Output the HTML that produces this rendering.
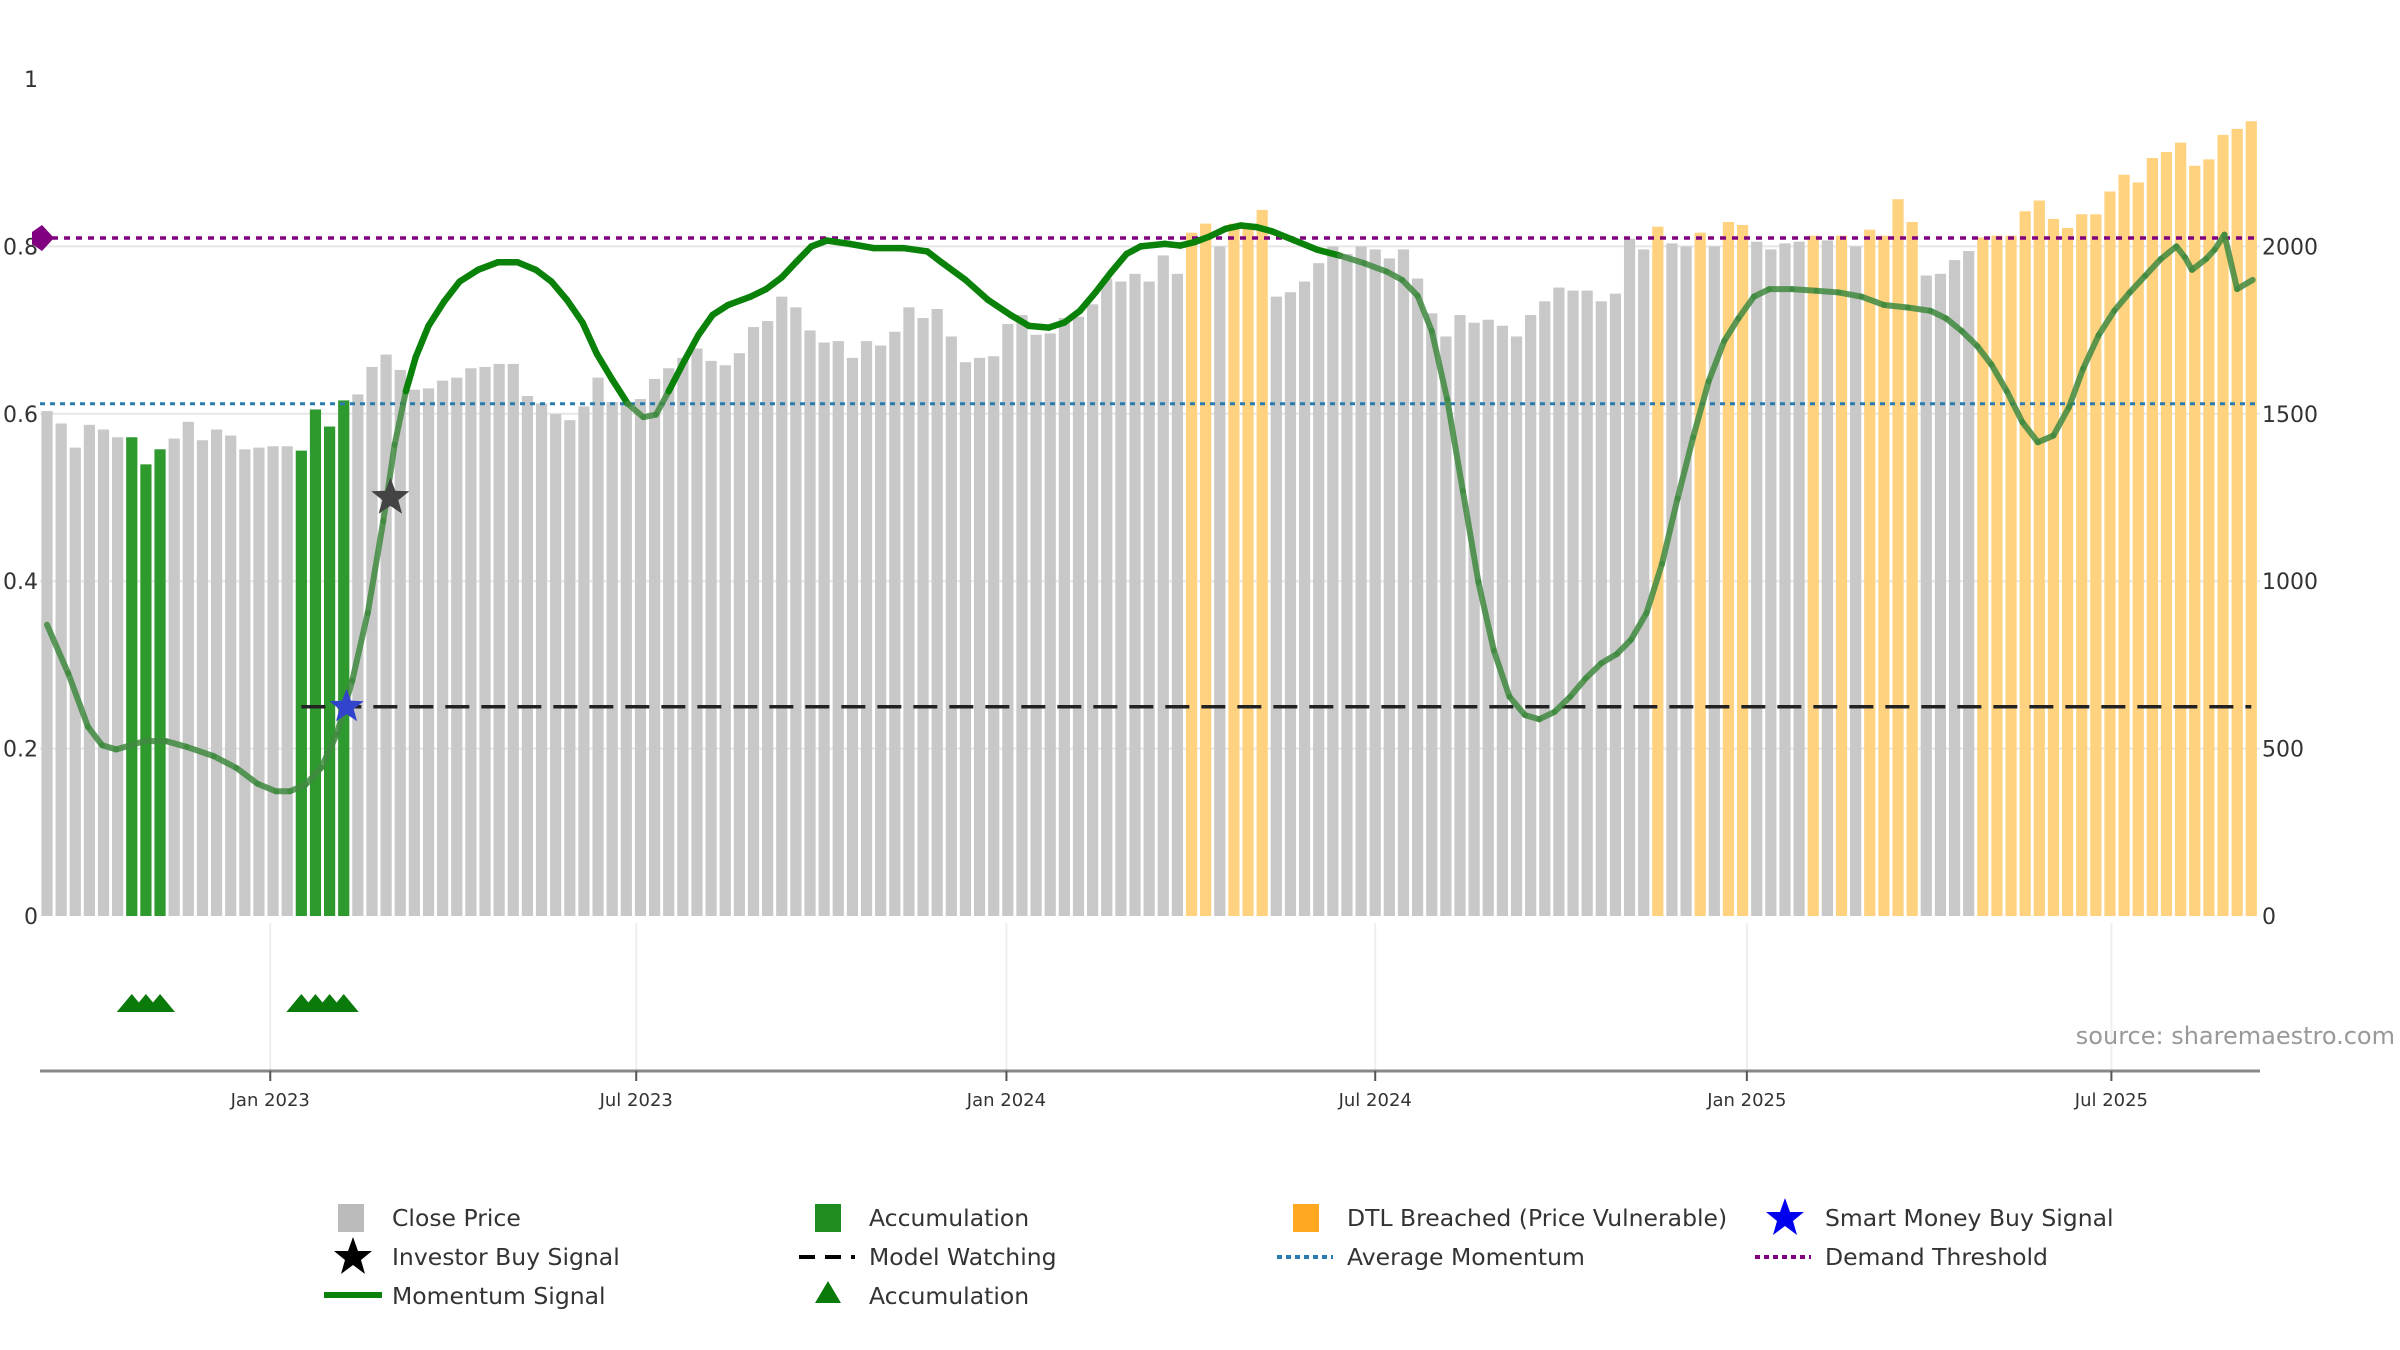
<!DOCTYPE html>
<html><head><meta charset="utf-8">
<style>
html,body{margin:0;padding:0;background:#fff;}
svg{display:block;font-family:"DejaVu Sans","Liberation Sans",sans-serif;}
</style></head>
<body>
<svg id="chart" width="2400" height="1350" viewBox="0 0 2400 1350" xmlns="http://www.w3.org/2000/svg"></svg>
<script>
// ---- data ----
const prices = [1508,1471,1399,1467,1453,1430,1430,1349,1394,1426,1476,1421,1453,1435,1394,1399,1403,1403,1390,1513,1462,1540,1558,1640,1677,1631,1572,1576,1599,1608,1636,1640,1649,1649,1553,1531,1499,1481,1522,1608,1535,1535,1544,1604,1636,1667,1695,1658,1645,1681,1759,1777,1850,1818,1749,1713,1717,1667,1717,1704,1745,1818,1786,1813,1731,1654,1667,1672,1768,1795,1736,1740,1786,1790,1827,1904,1895,1918,1895,1973,1918,2041,2068,2000,2068,2068,2109,1850,1863,1895,1950,2000,1977,2000,1991,1964,1991,1904,1800,1731,1795,1772,1781,1763,1731,1795,1836,1877,1868,1868,1836,1859,2023,1991,2059,2009,2000,2041,2000,2073,2064,2014,1991,2009,2014,2032,2018,2032,2000,2050,2032,2141,2073,1913,1918,1959,1986,2027,2032,2032,2105,2137,2082,2055,2096,2096,2164,2214,2191,2264,2282,2310,2241,2260,2333,2351,2374];
// 0 = close price, 1 = accumulation, 2 = DTL breached
const barState = [0,0,0,0,0,0,1,1,1,0,0,0,0,0,0,0,0,0,1,1,1,1,0,0,0,0,0,0,0,0,0,0,0,0,0,0,0,0,0,0,0,0,0,0,0,0,0,0,0,0,0,0,0,0,0,0,0,0,0,0,0,0,0,0,0,0,0,0,0,0,0,0,0,0,0,0,0,0,0,0,0,2,2,0,2,2,2,0,0,0,0,0,0,0,0,0,0,0,0,0,0,0,0,0,0,0,0,0,0,0,0,0,0,0,2,0,0,2,0,2,2,0,0,0,0,2,0,2,0,2,2,2,2,0,0,0,0,2,2,2,2,2,2,2,2,2,2,2,2,2,2,2,2,2,2,2,2];
const momWeek = [0,1.5,2.9,3.9,4.9,5.9,6.9,8.4,9.9,11.8,13.4,14.9,16.2,17.2,18.3,19.4,20.5,21.6,22.7,23.8,24.6,25.4,26.1,27.0,28.1,29.2,30.5,31.9,33.3,34.6,35.7,36.8,37.9,38.9,40.0,41.1,42.2,43.1,44.0,45.1,46.1,47.1,48.2,49.8,50.9,52.0,53.0,54.1,55.2,56.8,58.5,60.6,62.3,63.3,65.0,66.6,68.2,69.5,70.9,72.0,73.1,74.2,75.3,76.4,77.4,79.1,80.2,81.2,82.3,83.4,84.5,85.6,86.7,88.3,89.9,91.5,93.2,94.8,95.9,97.0,98.0,99.1,100.2,101.3,102.4,103.5,104.6,105.6,106.7,107.8,108.9,110.0,111.1,112.1,113.2,114.3,115.4,116.5,117.6,118.7,119.7,120.8,121.9,123.5,125.2,126.8,128.4,130.0,131.7,133.3,134.4,135.5,136.6,137.6,138.7,139.8,140.9,142.0,143.1,144.1,145.2,146.3,147.4,148.5,149.6,150.7,151.3,151.8,152.8,153.4,154.1,155.0,156.1];
const momValue = [.348,.290,.226,.204,.199,.204,.209,.209,.202,.191,.177,.158,.149,.149,.157,.177,.217,.281,.362,.472,.563,.627,.668,.705,.734,.758,.772,.781,.781,.772,.758,.736,.709,.672,.641,.612,.596,.599,.627,.663,.694,.718,.730,.740,.749,.763,.781,.800,.807,.803,.798,.798,.794,.781,.760,.736,.718,.705,.703,.709,.723,.745,.769,.791,.800,.803,.801,.805,.812,.821,.825,.823,.818,.807,.796,.789,.780,.770,.760,.741,.699,.617,.508,.399,.317,.262,.240,.235,.244,.262,.284,.302,.313,.330,.362,.421,.499,.572,.639,.687,.714,.740,.749,.749,.747,.745,.740,.730,.727,.723,.714,.699,.681,.659,.627,.590,.566,.574,.608,.654,.694,.723,.745,.765,.785,.800,.787,.772,.785,.796,.814,.749,.760];
const demandThreshold = 0.81;
const avgMomentum = 0.612;
const modelWatching = 0.25;
const modelWatchStart = 18;
const investorBuy = [{week:24.3, value:0.50}];
const smartMoneyBuy = [{week:21.2, value:0.25}];
const accumTriangles = [6,7,8,18,19,20,21];
const leftTicks = [0,0.2,0.4,0.6,0.8,1];
const leftTickLabels = ["0","0.2","0.4","0.6","0.8","1"];
const rightTicks = [0,500,1000,1500,2000];
const xTickWeeks = [15.8,41.7,67.9,94.0,120.3,146.1];
const xTickLabels = ["Jan 2023","Jul 2023","Jan 2024","Jul 2024","Jan 2025","Jul 2025"];

// ---- scales ----
const svg = document.getElementById('chart');
const NS = 'http://www.w3.org/2000/svg';
const X0 = 47, STEP = 14.13, BW = 11.2;
const XL = 40, XR = 2260;
const Y0 = 916, YH = 837;
const AXY = 1071;
const xW = w => X0 + w*STEP;
const yM = v => Y0 - v*YH;
const yP = p => Y0 - (p/2500)*YH;
function mk(tag, attrs, parent){const e=document.createElementNS(NS,tag);for(const k in attrs)e.setAttribute(k,attrs[k]);(parent||svg).appendChild(e);return e;}

leftTicks.forEach((t,i)=>{
  if(t>0 && t<1){const g=mk('line',{x1:XL,x2:XR,y1:yM(t),y2:yM(t),stroke:'#e6e6e6','stroke-width':2});
  
  }
  const tx=mk('text',{x:38,y:yM(t)+8,'text-anchor':'end','font-size':22,fill:'#333'});
  tx.textContent=leftTickLabels[i];
  
  
});
rightTicks.forEach(t=>{
  const tx=mk('text',{x:2262,y:yP(t)+8,'font-size':22,fill:'#333'});
  tx.textContent=String(t);
  
  
});
xTickWeeks.forEach(w=>{
  const g=mk('line',{x1:xW(w),x2:xW(w),y1:923,y2:AXY,stroke:'#eeeeee','stroke-width':2});
  
  
});

const colors=['#c8c8c8','#2e9a2e','#ffd280'];
prices.forEach((p,i)=>{
  const r=mk('rect',{x:xW(i)-BW/2,y:yP(p),width:BW,height:Y0-yP(p),fill:colors[barState[i]]});
  
  
});

const dl=mk('line',{x1:XL,x2:XR,y1:yM(demandThreshold),y2:yM(demandThreshold),stroke:'#800080','stroke-width':3.5,'stroke-dasharray':'6 6'});


const dm=mk('path',{d:`M${XL+2} ${yM(demandThreshold)-13} l12 13 l-12 13 l-10 -7 l0 -12 z`,fill:'#800080'});


const al=mk('line',{x1:XL,x2:XR,y1:yM(avgMomentum),y2:yM(avgMomentum),stroke:'#2b7bb0','stroke-width':3,'stroke-dasharray':'5 5'});


const ml=mk('line',{x1:xW(modelWatchStart),x2:xW(prices.length-1),y1:yM(modelWatching),y2:yM(modelWatching),stroke:'#222','stroke-width':3.5,'stroke-dasharray':'24 12'});



for(let i=0;i<momWeek.length-1;i++){
  const v=(momValue[i]+momValue[i+1])/2, w=momWeek[i];
  const faded = v<0.62 || w<23 || w>=90;
  const s=mk('line',{x1:xW(momWeek[i]),y1:yM(momValue[i]),x2:xW(momWeek[i+1]),y2:yM(momValue[i+1]),stroke:faded?'#3f8a3f':'#0a820a','stroke-opacity':faded?0.85:1,'stroke-width':faded?6:6.5,'stroke-linecap':'round'});
  
  
}

function star(cx,cy,r,fill,name){
  let d='';for(let k=0;k<10;k++){const a=-Math.PI/2+k*Math.PI/5;const rr=k%2?r*0.42:r;d+=(k?'L':'M')+(cx+rr*Math.cos(a)).toFixed(1)+' '+(cy+rr*Math.sin(a)).toFixed(1);}
  const s=mk('path',{d:d+'Z',fill:fill});
  
  
}
investorBuy.forEach(p=>star(xW(p.week),yM(p.value),20,'#444','investor-buy-star'));
smartMoneyBuy.forEach(p=>star(xW(p.week),yM(p.value),18,'#3344cc','smart-money-buy-star'));

accumTriangles.forEach(i=>{
  const cx=xW(i);
  const t=mk('path',{d:`M${cx-15} 1012 L${cx} 994 L${cx+15} 1012 Z`,fill:'#0a7a0a'});
  
  
});

const ax=mk('line',{x1:XL,x2:XR,y1:AXY,y2:AXY,stroke:'#888','stroke-width':3});


xTickWeeks.forEach((w,i)=>{
  const tk=mk('line',{x1:xW(w),x2:xW(w),y1:AXY,y2:AXY+10,stroke:'#555','stroke-width':2});
  
  
  const tl=mk('text',{x:xW(w),y:1106,'text-anchor':'middle','font-size':18,fill:'#333'});
  tl.textContent=xTickLabels[i];
  
  
});

const src=mk('text',{x:2395,y:1044,'text-anchor':'end','font-size':24,fill:'#999'});
src.textContent='source: sharemaestro.com';


</script>
<svg width="2400" height="1350" style="position:absolute;left:0;top:0" xmlns="http://www.w3.org/2000/svg" font-family="DejaVu Sans, Liberation Sans, sans-serif" font-size="23.5" fill="#333">
  <g><rect x="338" y="1204" width="26" height="28" fill="#bbb"/><text x="392" y="1226">Close Price</text></g>
  <g><rect x="815" y="1204" width="26" height="28" fill="#1e8c1e"/><text x="869" y="1226">Accumulation</text></g>
  <g><rect x="1293" y="1204" width="26" height="28" fill="#ffa820"/><text x="1347" y="1226">DTL Breached (Price Vulnerable)</text></g>
  <g><path d="M1785 1198 L1790 1212 L1804 1212 L1793 1221 L1797 1235 L1785 1226 L1773 1235 L1777 1221 L1766 1212 L1780 1212 Z" fill="#0000ee"/><text x="1825" y="1226">Smart Money Buy Signal</text></g>
  <g><path d="M353 1237 L358 1251 L372 1251 L361 1260 L365 1274 L353 1265 L341 1274 L345 1260 L334 1251 L348 1251 Z" fill="#000"/><text x="392" y="1265">Investor Buy Signal</text></g>
  <g><line x1="799" y1="1257" x2="855" y2="1257" stroke="#000" stroke-width="4" stroke-dasharray="16 10"/><text x="869" y="1265">Model Watching</text></g>
  <g><line x1="1277" y1="1257" x2="1333" y2="1257" stroke="#2b7bb0" stroke-width="4" stroke-dasharray="5 4"/><text x="1347" y="1265">Average Momentum</text></g>
  <g><line x1="1755" y1="1257" x2="1811" y2="1257" stroke="#800080" stroke-width="4" stroke-dasharray="5 4"/><text x="1825" y="1265">Demand Threshold</text></g>
  <g><line x1="324" y1="1295" x2="382" y2="1295" stroke="#0a820a" stroke-width="6"/><text x="392" y="1304">Momentum Signal</text></g>
  <g><path d="M815 1303 L828 1281 L841 1303 Z" fill="#0a7a0a"/><text x="869" y="1304">Accumulation</text></g>
</svg>
</body></html>
